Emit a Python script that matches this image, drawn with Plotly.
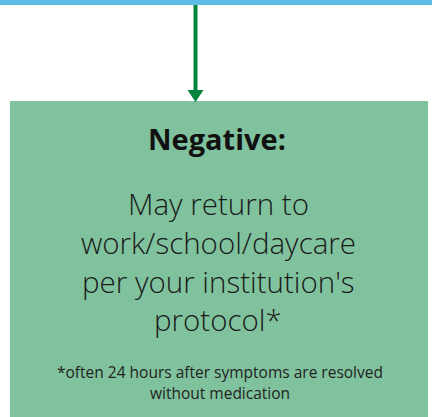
import plotly.graph_objects as go

W, H = 432, 417
title_text = ["Negative:"]
body_lines = ["May return to", "work/school/daycare", "per your institution's", "protocol*"]
note_lines = ["*often 24 hours after symptoms are resolved", "without medication"]

BLUE = "#5DBDE6"
GREEN_BOX = "#80C29D"
GREEN_ARROW = "#00843D"

fig = go.Figure()
fig.add_trace(go.Scatter(x=[0, W], y=[0, H], mode="markers", marker=dict(opacity=0), hoverinfo="skip", showlegend=False))

shapes = [
    dict(type="rect", x0=0, x1=W, y0=0, y1=5, fillcolor=BLUE, line=dict(width=0), layer="above"),
    dict(type="rect", x0=10, x1=428, y0=101, y1=H + 2, fillcolor=GREEN_BOX, line=dict(width=0), layer="below"),
    dict(type="line", x0=195.5, x1=195.5, y0=5, y1=93, line=dict(color=GREEN_ARROW, width=4)),
    dict(type="path", path="M 187.5 90 L 203.5 90 L 195.5 102 Z", fillcolor=GREEN_ARROW, line=dict(width=0)),
]

ann = []
ann.append(dict(x=217, y=138, text=title_text[0], showarrow=False, xanchor="center", yanchor="middle",
                font=dict(family="Open Sans", size=29, color="#111111", weight="bold")))
body_y = [203, 242, 281, 319]
for t, y in zip(body_lines, body_y):
    ann.append(dict(x=218, y=y, text=t, showarrow=False, xanchor="center", yanchor="middle",
                    font=dict(family="Open Sans", size=29.5, color="#1a1a1a", weight=300)))
note_y = [372, 393]
for t, y in zip(note_lines, note_y):
    ann.append(dict(x=220, y=y, text=t, showarrow=False, xanchor="center", yanchor="middle",
                    font=dict(family="Open Sans", size=15.5, color="#222222")))

fig.update_layout(
    width=W, height=H, margin=dict(l=0, r=0, t=0, b=0),
    paper_bgcolor="white", plot_bgcolor="white",
    xaxis=dict(range=[0, W], visible=False, fixedrange=True),
    yaxis=dict(range=[H, 0], visible=False, fixedrange=True),
    shapes=shapes, annotations=ann,
)
fig.write_html("out.html", config={"displayModeBar": False},
               post_script="document.body.style.margin='0';document.body.style.overflow='hidden';")
